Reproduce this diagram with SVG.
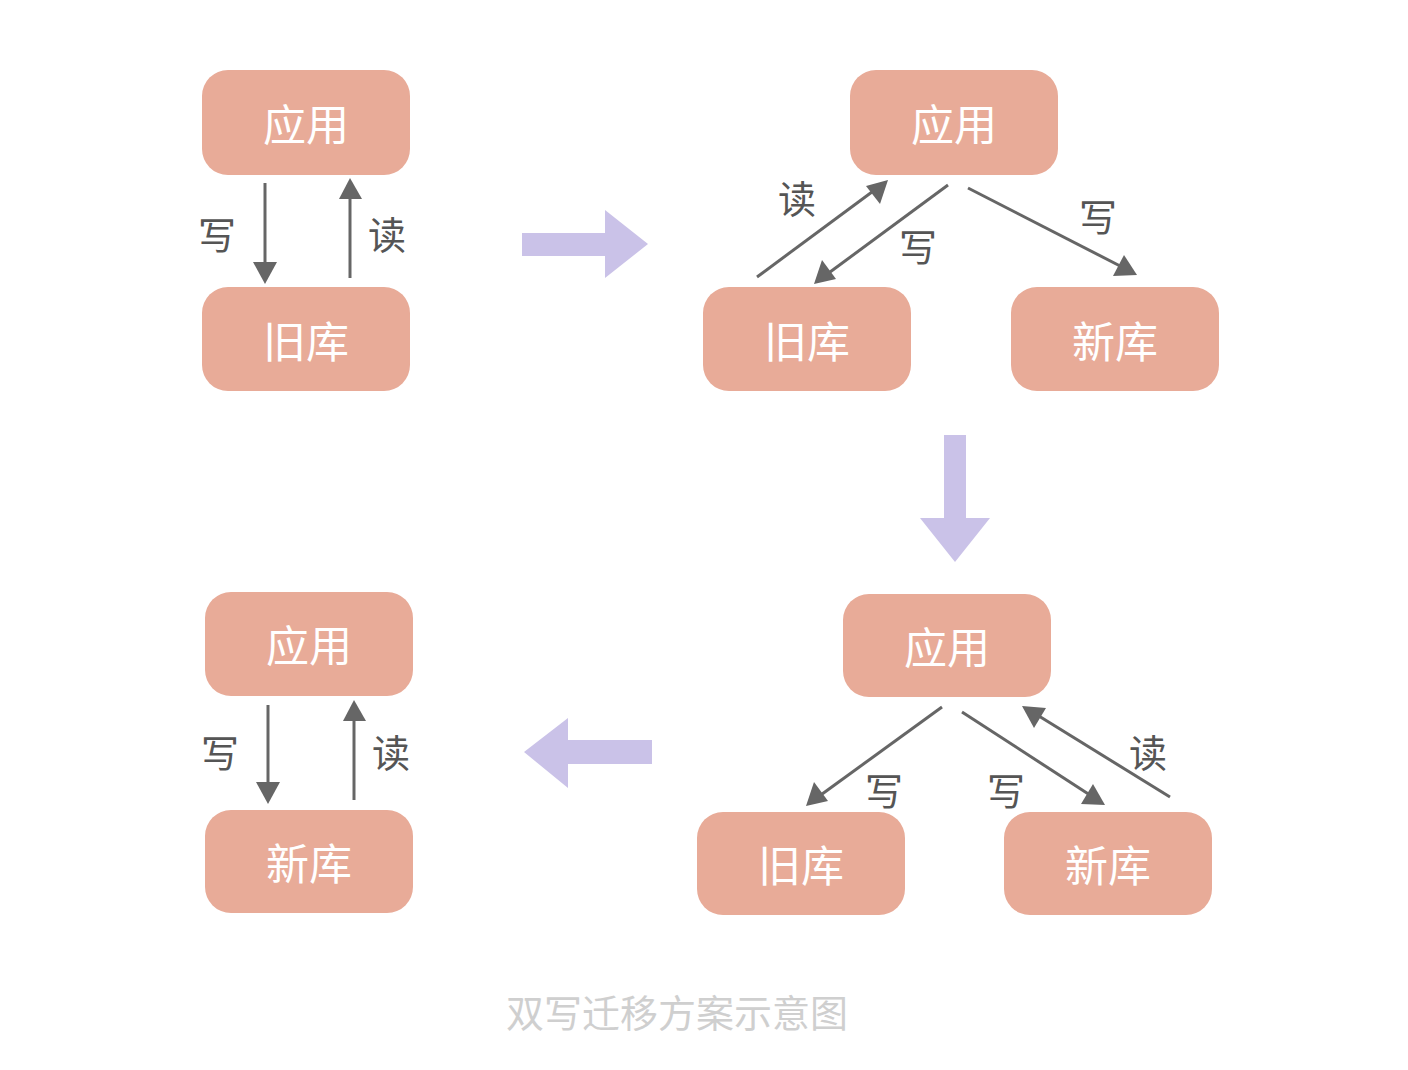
<svg xmlns="http://www.w3.org/2000/svg" width="1408" height="1070" viewBox="0 0 1408 1070">
<style>
.box{fill:#e8ab98;}
.bt{fill:#ffffff;font-family:"Noto Sans CJK SC","Noto Sans",sans-serif;font-size:43px;text-anchor:middle;dominant-baseline:central;}
.lb{fill:#555555;font-family:"Noto Sans CJK SC","Noto Sans",sans-serif;font-size:38px;text-anchor:middle;dominant-baseline:central;}
.ln{stroke:#666666;stroke-width:3;fill:none;}
.hd{fill:#666666;}
.big{fill:#cac2e8;}
.cap{fill:#cfcfcf;font-family:"Noto Sans CJK SC","Noto Sans",sans-serif;font-size:38px;text-anchor:middle;dominant-baseline:central;}
</style>
<rect width="1408" height="1070" fill="#ffffff"/>

<g id="p1-app"><rect class="box" x="202" y="70" width="208" height="105" rx="26"/><text class="bt" x="306" y="122">应用</text></g>
<g id="p1-old"><rect class="box" x="202" y="287" width="208" height="104" rx="26"/><text class="bt" x="306" y="339">旧库</text></g>

<g id="p2-app"><rect class="box" x="850" y="70" width="208" height="105" rx="26"/><text class="bt" x="954" y="122">应用</text></g>
<g id="p2-old"><rect class="box" x="703" y="287" width="208" height="104" rx="26"/><text class="bt" x="807" y="339">旧库</text></g>
<g id="p2-new"><rect class="box" x="1011" y="287" width="208" height="104" rx="26"/><text class="bt" x="1115" y="339">新库</text></g>

<g id="p3-app"><rect class="box" x="843" y="594" width="208" height="103" rx="26"/><text class="bt" x="947" y="645">应用</text></g>
<g id="p3-old"><rect class="box" x="697" y="812" width="208" height="103" rx="26"/><text class="bt" x="801" y="863">旧库</text></g>
<g id="p3-new"><rect class="box" x="1004" y="812" width="208" height="103" rx="26"/><text class="bt" x="1108" y="863">新库</text></g>

<g id="p4-app"><rect class="box" x="205" y="592" width="208" height="104" rx="26"/><text class="bt" x="309" y="643">应用</text></g>
<g id="p4-new"><rect class="box" x="205" y="810" width="208" height="103" rx="26"/><text class="bt" x="309" y="861">新库</text></g>

<g id="connectors">
<line class="ln" x1="265" y1="183" x2="265" y2="270"/>
<path class="hd" d="M253,262 L277,262 L265,284 z"/>
<line class="ln" x1="350" y1="278" x2="350" y2="192"/>
<path class="hd" d="M339,199 L362,199 L350,178 z"/>

<line class="ln" x1="757" y1="277" x2="876" y2="189"/>
<path class="hd" d="M888,180 L880,204 L866,186 z"/>
<line class="ln" x1="948" y1="185" x2="826" y2="275"/>
<path class="hd" d="M814,284 L822,260 L836,279 z"/>
<line class="ln" x1="968" y1="188" x2="1124" y2="268"/>
<path class="hd" d="M1137,275 L1113,276 L1124,255 z"/>

<line class="ln" x1="942" y1="707" x2="818" y2="797"/>
<path class="hd" d="M806,806 L814,782 L828,801 z"/>
<line class="ln" x1="962" y1="712" x2="1093" y2="797"/>
<path class="hd" d="M1105,805 L1081,804 L1093,784 z"/>
<line class="ln" x1="1170" y1="797" x2="1034" y2="713"/>
<path class="hd" d="M1022,706 L1046,708 L1034,728 z"/>

<line class="ln" x1="268" y1="705" x2="268" y2="790"/>
<path class="hd" d="M256,782 L280,782 L268,804 z"/>
<line class="ln" x1="354" y1="800" x2="354" y2="714"/>
<path class="hd" d="M343,721 L366,721 L354,700 z"/>
</g>

<g id="labels">
<text class="lb" x="217" y="232">写</text>
<text class="lb" x="387" y="232">读</text>
<text class="lb" x="797" y="196">读</text>
<text class="lb" x="918" y="244">写</text>
<text class="lb" x="1098" y="214">写</text>
<text class="lb" x="884" y="788">写</text>
<text class="lb" x="1006" y="788">写</text>
<text class="lb" x="1148" y="750">读</text>
<text class="lb" x="220" y="750">写</text>
<text class="lb" x="391" y="750">读</text>
</g>

<g id="flow-arrows">
<path class="big" d="M522,233 L605,233 L605,210 L648,244 L605,278 L605,256 L522,256 z"/>
<path class="big" d="M944,435 L966,435 L966,518 L990,518 L955,562 L920,518 L944,518 z"/>
<path class="big" d="M652,740 L568,740 L568,718 L524,752 L568,788 L568,764 L652,764 z"/>
</g>

<text class="cap" x="677" y="1010">双写迁移方案示意图</text>
</svg>
